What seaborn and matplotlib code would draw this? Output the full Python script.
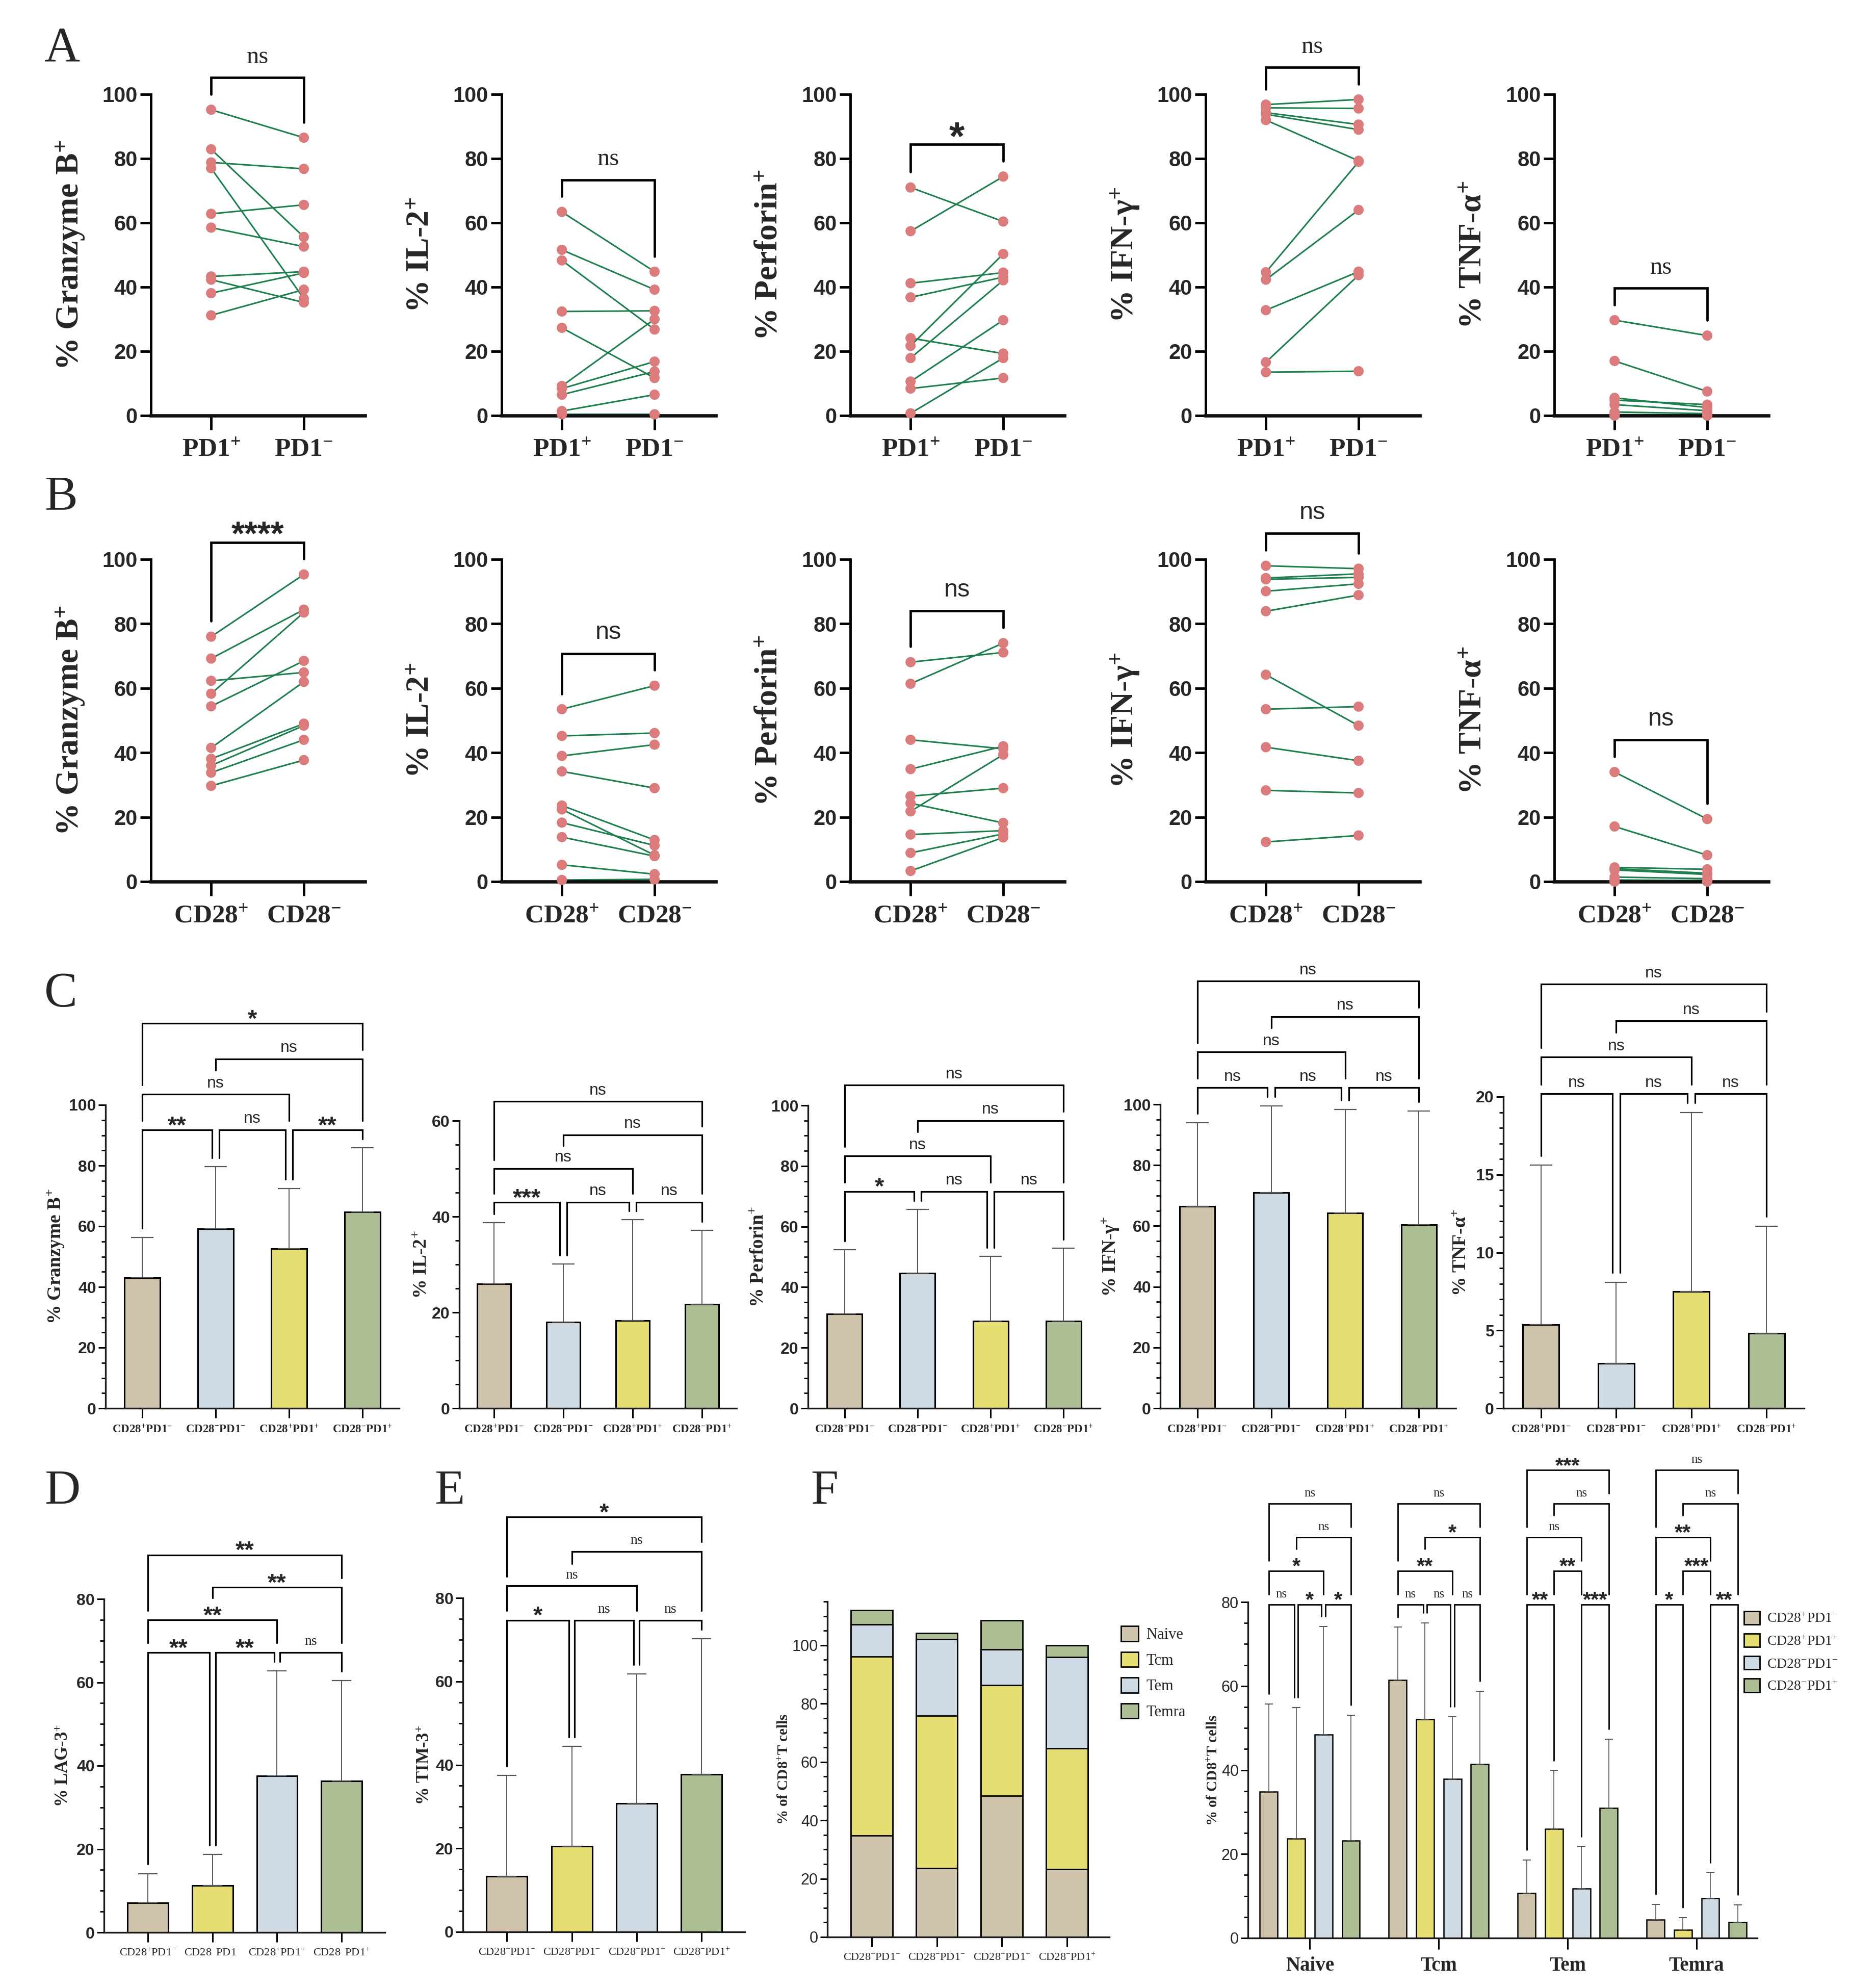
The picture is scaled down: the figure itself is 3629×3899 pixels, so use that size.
import numpy as np
import pandas as pd
import matplotlib
matplotlib.use("Agg")
import matplotlib.pyplot as plt
import seaborn as sns
from matplotlib.patches import Patch
from matplotlib.ticker import MultipleLocator

# ---------------- data ----------------
# A: paired donors, PD1+ vs PD1-
a_gzb_pos = [95.2, 82.9, 78.8, 77.0, 62.8, 58.5, 43.3, 42.3, 38.1, 31.2]
a_gzb_neg = [86.5, 55.6, 76.8, 36.4, 65.6, 52.6, 44.8, 35.2, 44.4, 39.2]
a_il2_pos = [63.4, 51.6, 48.3, 32.4, 27.3, 9.2, 8.4, 6.5, 1.4, 0.4]
a_il2_neg = [44.8, 39.2, 26.8, 32.6, 11.7, 30.0, 16.8, 13.7, 6.5, 0.4]
a_prf_pos = [71.0, 57.4, 41.2, 36.8, 24.1, 21.7, 17.9, 10.6, 8.4, 0.7]
a_prf_neg = [60.4, 74.4, 44.5, 43.1, 19.3, 50.3, 42.1, 29.7, 11.7, 17.9]
a_ifn_pos = [96.8, 95.8, 94.3, 93.8, 92.0, 44.6, 42.3, 32.8, 16.6, 13.5]
a_ifn_neg = [98.4, 95.6, 90.6, 89.0, 79.3, 79.0, 64.0, 44.8, 43.7, 13.8]
a_tnf_pos = [29.7, 17.0, 5.5, 4.8, 3.4, 1.1, 0.3, 0.1, 0.0, 0.2]
a_tnf_neg = [24.9, 7.5, 2.5, 3.4, 1.5, 0.6, 0.2, 0.1, 0.3, 0.0]
a_sig = ["ns", "ns", "*", "ns", "ns"]

# B: paired donors, CD28+ vs CD28-
b_gzb_pos = [76.0, 69.2, 62.3, 58.3, 54.4, 41.5, 38.1, 36.0, 33.8, 29.7]
b_gzb_neg = [95.3, 84.4, 64.9, 83.5, 68.5, 62.0, 49.0, 48.4, 44.0, 37.7]
b_il2_pos = [53.5, 45.2, 39.0, 34.2, 23.6, 22.4, 18.3, 13.8, 5.2, 0.5]
b_il2_neg = [60.8, 46.1, 42.5, 29.0, 12.9, 8.2, 11.2, 7.9, 2.3, 0.7]
b_prf_pos = [68.1, 61.4, 44.0, 34.9, 26.5, 24.3, 21.8, 14.6, 8.9, 3.3]
b_prf_neg = [71.1, 74.0, 41.2, 42.0, 29.0, 18.2, 39.4, 15.8, 14.8, 13.7]
b_ifn_pos = [98.0, 94.2, 93.8, 90.1, 83.9, 64.2, 53.5, 41.7, 28.3, 12.3]
b_ifn_neg = [97.1, 95.5, 94.4, 92.4, 88.9, 48.4, 54.3, 37.5, 27.5, 14.3]
b_tnf_pos = [34.0, 17.1, 4.4, 4.0, 3.6, 1.4, 0.5, 0.2, 0.1, 0.0]
b_tnf_neg = [19.4, 8.2, 3.8, 2.6, 2.2, 0.9, 0.3, 0.1, 0.4, 0.0]
b_sig = ["****", "ns", "ns", "ns", "ns"]

markers_ab = ["% Granzyme B$^{+}$", "% IL-2$^{+}$", "% Perforin$^{+}$",
              "% IFN-γ$^{+}$", "% TNF-α$^{+}$"]

# C-E: four subsets
subsets = ["CD28+PD1-", "CD28-PD1-", "CD28+PD1+", "CD28-PD1+"]
subset_tex = ["CD28$^{+}$PD1$^{-}$", "CD28$^{-}$PD1$^{-}$",
              "CD28$^{+}$PD1$^{+}$", "CD28$^{-}$PD1$^{+}$"]
c_gzb_mean = [43.1, 59.2, 52.6, 64.7]
c_gzb_sd = [13.2, 20.4, 19.8, 21.1]
c_il2_mean = [26.0, 18.0, 18.3, 21.7]
c_il2_sd = [12.7, 12.1, 21.1, 15.4]
c_prf_mean = [31.2, 44.6, 28.8, 28.8]
c_prf_sd = [21.1, 21.0, 21.3, 24.0]
c_ifn_mean = [66.5, 71.0, 64.2, 60.4]
c_ifn_sd = [27.4, 28.5, 34.2, 37.5]
c_tnf_mean = [5.36, 2.89, 7.49, 4.81]
c_tnf_sd = [10.24, 5.21, 11.51, 6.89]
# order of comparisons: 1-2, 2-3, 3-4, 1-3, 2-4, 1-4
c_gzb_sig = ["**", "ns", "**", "ns", "ns", "*"]
c_il2_sig = ["***", "ns", "ns", "ns", "ns", "ns"]
c_prf_sig = ["*", "ns", "ns", "ns", "ns", "ns"]
c_ifn_sig = ["ns", "ns", "ns", "ns", "ns", "ns"]
c_tnf_sig = ["ns", "ns", "ns", "ns", "ns", "ns"]

d_lag_mean = [7.1, 11.3, 37.5, 36.3]
d_lag_sd = [7.0, 7.4, 25.2, 24.1]
d_lag_sig = ["**", "**", "ns", "**", "**", "**"]
e_tim_mean = [13.3, 20.5, 30.8, 37.7]
e_tim_sd = [24.2, 23.9, 31.0, 32.5]
e_tim_sig = ["*", "ns", "ns", "ns", "ns", "*"]

# F: memory subsets
mem_names = ["Naive", "Tcm", "Tem", "Temra"]
f_naive = [34.7, 23.6, 48.4, 23.2]
f_tcm = [61.5, 52.2, 37.9, 41.5]
f_tem = [11.0, 26.2, 12.3, 31.3]
f_temra = [4.9, 2.2, 9.9, 4.0]

f2_groups = ["CD28+PD1-", "CD28+PD1+", "CD28-PD1-", "CD28-PD1+"]
f2_groups_tex = ["CD28$^{+}$PD1$^{-}$", "CD28$^{+}$PD1$^{+}$",
                 "CD28$^{-}$PD1$^{-}$", "CD28$^{-}$PD1$^{+}$"]
f2_mean = {"Naive": [34.8, 23.7, 48.4, 23.2], "Tcm": [61.4, 52.1, 37.9, 41.4],
           "Tem": [10.7, 26.0, 11.8, 31.0], "Temra": [4.4, 2.0, 9.5, 3.8]}
f2_sd = {"Naive": [20.9, 31.2, 25.8, 29.9], "Tcm": [12.6, 22.9, 14.8, 17.4],
         "Tem": [7.9, 13.9, 10.0, 16.4], "Temra": [3.6, 2.9, 6.1, 4.1]}
f2_sig = {"Naive": ["ns", "*", "*", "*", "ns", "ns"],
          "Tcm": ["ns", "ns", "ns", "**", "*", "ns"],
          "Tem": ["**", "***", "**", "ns", "ns", "***"],
          "Temra": ["*", "**", "***", "**", "ns", "ns"]}

# ---------------- style ----------------
TAN, BLUE, YEL, GRN = "#D0C3AC", "#CEDBE4", "#E6DD73", "#ADBD94"
DOT, LINE = "#DB7B7B", "#1E7F4E"
SANS = ["Liberation Sans", "DejaVu Sans"]
NARROW = ["Liberation Sans Narrow", "Liberation Sans", "DejaVu Sans"]
SERIF = ["Liberation Serif", "DejaVu Serif"]

sns.set_theme(style="ticks")
plt.rcParams["font.family"] = SERIF
plt.rcParams["mathtext.default"] = "regular"
plt.rcParams["axes.unicode_minus"] = True

W, H = 3630, 3899
fig = plt.figure(figsize=(W / 100, H / 100), dpi=100)

BRK4 = [(0, 1, 0), (1, 2, 0), (2, 3, 0), (0, 2, 1), (1, 3, 2), (0, 3, 3)]
BRK4B = [(0, 1, 0), (2, 3, 0), (1, 2, 1), (0, 2, 2), (1, 3, 3), (0, 3, 4)]


def px_axes(left, top, right, bottom):
    return fig.add_axes([left / W, 1 - bottom / H, (right - left) / W, (bottom - top) / H])


def ylab(ax, text, off, size):
    b = ax.get_position()
    fig.text(b.x0 - off / W, (b.y0 + b.y1) / 2, text, rotation=90, ha="center",
             va="center", fontsize=size, fontweight="bold")


def ppu_of(ax, span):
    return ax.get_position().height * H / span


def sig_text(ax, x, y, lab, vis, ppu, ns_fs, st_fs, ns_fam):
    if lab == "ns":
        em = ns_fs * 100 / 72
        ax.text(x, y + (vis - 0.24 * em) / ppu, "ns", ha="center", va="baseline",
                fontsize=ns_fs, family=ns_fam, clip_on=False)
    else:
        em = st_fs * 100 / 72
        ax.text(x, y + (vis - 0.56 * em) / ppu, lab, ha="center", va="baseline",
                fontsize=st_fs, fontweight="bold", family=SANS, clip_on=False)


def draw_stats(ax, xs, tops, structure, labels, L1, step, gap, clear, dx, lw, vis, ppu,
               ns_fs, st_fs, ns_fam):
    occ = list(tops)
    pairs = list(zip(structure, labels))
    for lev in sorted(set(s[2] for s in structure)):
        grp = [(s, l) for s, l in pairs if s[2] == lev]
        starts = [s[0] for s, _ in grp]
        ends = [s[1] for s, _ in grp]
        h = L1 + lev * step
        for (i, j, _), lab in grp:
            x1 = xs[i] + (dx if i in ends else 0)
            x2 = xs[j] - (dx if j in starts else 0)
            ax.plot([x1, x1, x2, x2], [occ[i] + gap, h, h, occ[j] + gap], color="black",
                    lw=lw, clip_on=False, solid_joinstyle="miter", zorder=4)
            sig_text(ax, (x1 + x2) / 2, h, lab, vis, ppu, ns_fs, st_fs, ns_fam)
        for (i, j, _), _ in grp:
            for k in range(i, j + 1):
                # the label sits over the middle bar, legs above it must clear the text
                top_k = h + clear - gap if 2 * k == i + j else h
                occ[k] = max(occ[k], top_k)


def paired_panel(ax, left, right, xlabels, sig, ns_fam):
    n = len(left)
    df = pd.DataFrame({"pair": np.tile(np.arange(n), 2), "pos": np.repeat([0, 1], n),
                       "val": np.r_[left, right]})
    sns.lineplot(data=df, x="pos", y="val", units="pair", estimator=None, color=LINE,
                 linewidth=2.2, ax=ax, legend=False)
    sns.scatterplot(data=df, x="pos", y="val", color=DOT, s=210, edgecolor="none",
                    linewidth=0, zorder=3, clip_on=False, ax=ax, legend=False)
    ax.set_xlim(-0.65, 1.66)
    ax.set_ylim(0, 100)
    ax.set_yticks(np.arange(0, 101, 20))
    ax.set_yticklabels([str(v) for v in range(0, 101, 20)], fontfamily=SANS,
                       fontweight="bold", fontsize=30)
    ax.set_xticks([0, 1])
    ax.set_xticklabels(xlabels, fontsize=37, fontweight="bold")
    ax.set_xlabel("")
    ax.set_ylabel("")
    ax.tick_params(axis="y", length=15, width=3.5, pad=4, color="black")
    ax.tick_params(axis="x", length=20, width=3.5, pad=12, color="black")
    sns.despine(ax=ax)
    ax.spines["left"].set_linewidth(3.5)
    ax.spines["bottom"].set_linewidth(4.8)
    ax.spines["left"].set_color("black")
    ax.spines["bottom"].set_color("#111111")
    top = max(max(left), max(right)) + 10
    ax.plot([0, 0, 1, 1], [max(left) + 4.8, top, top, max(right) + 4.8], color="black",
            lw=3.4, clip_on=False, solid_joinstyle="miter")
    ppu = ppu_of(ax, 100)
    st = 56 if sig == "*" else 48
    sig_text(ax, 0.5, top, sig, 40 if sig == "ns" else 33, ppu, 35, st, ns_fam)


def style_bar_axis(ax, ytop, major, minor, tick_bold=True, tick_fs=23):
    ax.set_ylim(0, ytop)
    ticks = np.arange(0, ytop + 0.01, major)
    ax.set_yticks(ticks)
    ax.set_yticklabels([f"{t:g}" for t in ticks], fontfamily=SANS,
                       fontweight="bold" if tick_bold else "normal", fontsize=tick_fs)
    ax.yaxis.set_minor_locator(MultipleLocator(minor))
    ax.tick_params(axis="y", which="major", length=10, width=2.2, pad=3, color="black")
    ax.tick_params(axis="y", which="minor", length=6, width=2.0, color="black")
    ax.tick_params(axis="x", which="major", length=14, width=2.2, pad=8, color="black")
    sns.despine(ax=ax)
    for s in ("left", "bottom"):
        ax.spines[s].set_linewidth(2.4)
        ax.spines[s].set_color("#1a1a1a")
    ax.set_xlabel("")
    ax.set_ylabel("")


def bar_panel(ax, means, sds, colors, ytop, major, minor, width, xlim, cap, xfs, xbold):
    sns.barplot(x=subsets, y=means, hue=subsets, palette=colors, legend=False,
                saturation=1, width=width, edgecolor="black", linewidth=2.2,
                errorbar=None, ax=ax)
    ax.errorbar(np.arange(4), means, yerr=[np.zeros(4), sds], fmt="none",
                ecolor="#555555", elinewidth=1.4, capsize=cap, capthick=1.6, zorder=3)
    ax.set_xlim(*xlim)
    style_bar_axis(ax, ytop, major, minor)
    ax.set_xticks(range(4))
    ax.set_xticklabels(subset_tex, fontsize=xfs, fontweight="bold" if xbold else "normal")


# ---------------- rows A and B ----------------
ab_lefts = [296, 984, 1668, 2365, 3049]
rows = [
    (185, 815, [(a_gzb_pos, a_gzb_neg), (a_il2_pos, a_il2_neg), (a_prf_pos, a_prf_neg),
                (a_ifn_pos, a_ifn_neg), (a_tnf_pos, a_tnf_neg)],
     ["PD1$^{+}$", "PD1$^{-}$"], a_sig, SERIF),
    (1097, 1729, [(b_gzb_pos, b_gzb_neg), (b_il2_pos, b_il2_neg), (b_prf_pos, b_prf_neg),
                  (b_ifn_pos, b_ifn_neg), (b_tnf_pos, b_tnf_neg)],
     ["CD28$^{+}$", "CD28$^{-}$"], b_sig, NARROW),
]
for top, bottom, data, xl, sigs, fam in rows:
    for k, ((lv, rv), lbl) in enumerate(zip(data, markers_ab)):
        ax = px_axes(ab_lefts[k], top, ab_lefts[k] + 420, bottom)
        paired_panel(ax, lv, rv, xl, sigs[k], fam)
        ylab(ax, lbl, 158, 46)

# ---------------- row C ----------------
c_cols = [TAN, BLUE, YEL, GRN]
c_specs = [
    ((207, 2167, 783, 2762), c_gzb_mean, c_gzb_sd, c_gzb_sig, 100, 20, 5, markers_ab[0], 98),
    ((901, 2198, 1445, 2762), c_il2_mean, c_il2_sd, c_il2_sig, 60, 20, 5, markers_ab[1], 74),
    ((1585, 2168, 2158, 2762), c_prf_mean, c_prf_sd, c_prf_sig, 100, 20, 5, markers_ab[2], 97),
    ((2276, 2166, 2856, 2762), c_ifn_mean, c_ifn_sd, c_ifn_sig, 100, 20, 5, markers_ab[3], 98),
    ((2949, 2151, 3539, 2762), c_tnf_mean, c_tnf_sd, c_tnf_sig, 20, 5, 1, markers_ab[4], 83),
]
for box, m, sd, sg, ytop, major, minor, lbl, off in c_specs:
    ax = px_axes(*box)
    bar_panel(ax, m, sd, c_cols, ytop, major, minor, 0.48, (-0.5, 3.5), 16, 16.5, True)
    tops = np.array(m) + np.array(sd)
    draw_stats(ax, np.arange(4), tops, BRK4, sg, tops.max() + 0.06 * ytop, 0.117 * ytop,
               0.03 * ytop, 0.08 * ytop, 0.05, 2.3, 21, ppu_of(ax, ytop), 23, 34, NARROW)
    ylab(ax, lbl, off, 27)

# ---------------- rows D and E ----------------
de_cols = [TAN, YEL, BLUE, GRN]
de_specs = [((204, 3136, 755, 3790), d_lag_mean, d_lag_sd, d_lag_sig, "% LAG-3$^{+}$", 79, 0.0975),
            ((908, 3134, 1461, 3789), e_tim_mean, e_tim_sd, e_tim_sig, "% TIM-3$^{+}$", 74, 0.103)]
for box, m, sd, sg, lbl, off, stepf in de_specs:
    ax = px_axes(*box)
    bar_panel(ax, m, sd, de_cols, 80, 20, 5, 0.63, (-0.68, 3.67), 14, 16, False)
    tops = np.array(m) + np.array(sd)
    draw_stats(ax, np.arange(4), tops, BRK4, sg, tops.max() + 0.056 * 80, stepf * 80,
               0.028 * 80, 0.066 * 80, 0.045, 2.3, 21, ppu_of(ax, 80), 20, 34, SERIF)
    ylab(ax, lbl, off, 25)

# ---------------- F left: stacked ----------------
ax = px_axes(1623, 3141, 2176, 3799)
layers = [f_naive, f_tcm, f_tem, f_temra]
cum = np.cumsum(np.array(layers), axis=0)
f_cols = [TAN, YEL, BLUE, GRN]
for li in range(3, -1, -1):
    sns.barplot(x=subsets, y=cum[li], color=f_cols[li], saturation=1, width=0.64,
                edgecolor="black", linewidth=2.0, errorbar=None, ax=ax)
ax.set_xlim(-0.68, 3.65)
style_bar_axis(ax, 115, 20, 5, tick_bold=False, tick_fs=22)
ax.set_yticks(np.arange(0, 101, 20))
ax.set_yticklabels([str(v) for v in range(0, 101, 20)], fontfamily=SANS, fontsize=22)
ax.set_xticks(range(4))
ax.set_xticklabels(subset_tex, fontsize=16)
ax.legend(handles=[Patch(facecolor=c, edgecolor="black", linewidth=2) for c in f_cols],
          labels=mem_names, loc="upper left", bbox_to_anchor=(1.02, 0.945), frameon=False,
          fontsize=22, handlelength=1.1, handleheight=1.1, labelspacing=0.6,
          handletextpad=0.5, borderaxespad=0)
ylab(ax, "% of CD8$^{+}$T cells", 85, 21)

# ---------------- F right: grouped ----------------
ax = px_axes(2448, 3142, 3447, 3801)
rec = []
for s in mem_names:
    for g, v in zip(f2_groups, f2_mean[s]):
        rec.append({"subset": s, "group": g, "mean": v})
f2df = pd.DataFrame(rec)
sns.barplot(data=f2df, x="subset", y="mean", hue="group", hue_order=f2_groups,
            order=mem_names, palette=f_cols, width=0.85, gap=0.35, saturation=1,
            edgecolor="black", linewidth=1.8, errorbar=None, legend=False, ax=ax)
slot = 0.85 / 4
offs = -0.85 / 2 + slot / 2 + slot * np.arange(4)
gtop = max(max(np.array(f2_mean[s]) + np.array(f2_sd[s])) for s in mem_names)
for gi, s in enumerate(mem_names):
    xs = gi + offs
    ax.errorbar(xs, f2_mean[s], yerr=[np.zeros(4), f2_sd[s]], fmt="none",
                ecolor="#555555", elinewidth=1.2, capsize=6, capthick=1.4, zorder=3)
    tops = np.array(f2_mean[s]) + np.array(f2_sd[s])
    struct = BRK4 if s in ("Naive", "Tcm") else BRK4B
    draw_stats(ax, xs, tops, struct, f2_sig[s], gtop + 0.055 * 80, 0.1 * 80, 0.03 * 80,
               0.066 * 80, 0.015, 2.0, 20, ppu_of(ax, 80), 18, 30, SERIF)
ax.set_xlim(-0.48, 3.47)
style_bar_axis(ax, 80, 20, 5, tick_bold=False, tick_fs=22)
ax.set_xticks(range(4))
ax.set_xticklabels(mem_names, fontsize=28, fontweight="bold")
ax.tick_params(axis="x", length=16, pad=10)
ax.legend(handles=[Patch(facecolor=c, edgecolor="black", linewidth=2) for c in f_cols],
          labels=f2_groups_tex, loc="upper left", bbox_to_anchor=(0.963, 0.99),
          frameon=False, fontsize=20, handlelength=1.1, handleheight=1.1,
          labelspacing=0.55, handletextpad=0.5, borderaxespad=0)
ylab(ax, "% of CD8$^{+}$T cells", 68, 21)

# ---------------- panel letters ----------------
for letter, (x, y) in {"A": (87, 120), "B": (87, 1000), "C": (87, 1974), "D": (87, 2950),
                       "E": (852, 2950), "F": (1590, 2950)}.items():
    fig.text(x / W, 1 - y / H, letter, fontsize=70, ha="left", va="baseline")

fig.savefig("out.png", dpi=100)
